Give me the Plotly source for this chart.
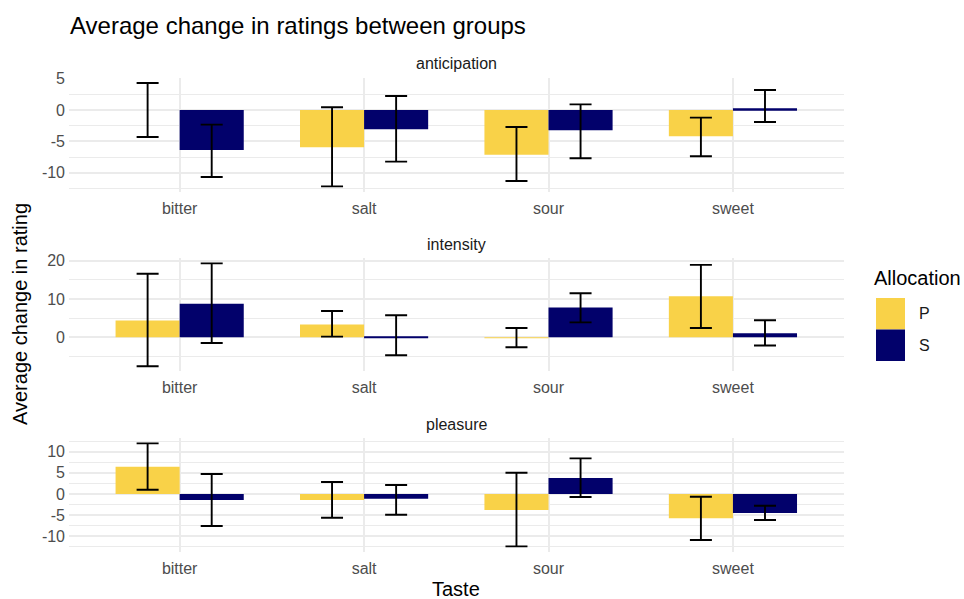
import plotly.graph_objects as go

# ---- data -----------------------------------------------------------------
tastes = ["bitter", "salt", "sour", "sweet"]
groups = ["P", "S"]
measures = ["anticipation", "intensity", "pleasure"]

# mean change in rating, with upper / lower error-bar bounds
anticipation_P_mean = [0.00, -5.96, -7.13, -4.20]
anticipation_P_hi = [4.31, 0.43, -2.71, -1.22]
anticipation_P_lo = [-4.31, -12.18, -11.33, -7.39]
anticipation_S_mean = [-6.38, -3.09, -3.24, 0.27]
anticipation_S_hi = [-2.34, 2.23, 0.90, 3.19]
anticipation_S_lo = [-10.69, -8.24, -7.71, -1.91]

intensity_P_mean = [4.35, 3.30, -0.10, 10.70]
intensity_P_hi = [16.60, 6.87, 2.43, 18.90]
intensity_P_lo = [-7.57, 0.17, -2.60, 2.43]
intensity_S_mean = [8.78, 0.26, 7.74, 1.04]
intensity_S_hi = [19.30, 5.74, 11.50, 4.43]
intensity_S_lo = [-1.48, -4.70, 3.90, -2.17]

pleasure_P_mean = [6.46, -1.42, -3.78, -5.75]
pleasure_P_hi = [11.97, 2.83, 5.04, -0.63]
pleasure_P_lo = [1.02, -5.59, -12.36, -10.87]
pleasure_S_mean = [-1.42, -1.10, 3.78, -4.49]
pleasure_S_hi = [4.72, 2.13, 8.43, -2.76]
pleasure_S_lo = [-7.56, -4.88, -0.71, -6.14]

# y-axis tick spacing (major, minor) per panel
major_step = [5, 10, 5]
minor_step = [2.5, 5, 2.5]

series = {
    ("anticipation", "P"): (anticipation_P_mean, anticipation_P_hi, anticipation_P_lo),
    ("anticipation", "S"): (anticipation_S_mean, anticipation_S_hi, anticipation_S_lo),
    ("intensity", "P"): (intensity_P_mean, intensity_P_hi, intensity_P_lo),
    ("intensity", "S"): (intensity_S_mean, intensity_S_hi, intensity_S_lo),
    ("pleasure", "P"): (pleasure_P_mean, pleasure_P_hi, pleasure_P_lo),
    ("pleasure", "S"): (pleasure_S_mean, pleasure_S_hi, pleasure_S_lo),
}

# ---- styling ----------------------------------------------------------------
W, H = 964, 599
FONT = "Liberation Sans, Arial, Helvetica, sans-serif"
colors = {"P": "#F9D248", "S": "#02016B"}
GRID = "#EBEBEB"


def px_x(p):
    return p / W


def px_y(p):
    return 1 - p / H


x_dom = [px_x(69), px_x(843.6)]
panel_px = [(77.8, 191.5), (258.2, 371.4), (438.2, 551.5)]

fig = go.Figure()
layout = dict(
    width=W, height=H,
    margin=dict(l=0, r=0, t=0, b=0, autoexpand=False),
    paper_bgcolor="white", plot_bgcolor="white",
    barmode="group", bargap=0.305, bargroupgap=0,
    showlegend=False,
    font=dict(family=FONT),
)

annotations = []
for i, m in enumerate(measures):
    n = "" if i == 0 else str(i + 1)
    means_all, his_all, los_all = [], [], []
    for g in groups:
        mean, hi, lo = series[(m, g)]
        means_all += mean
        his_all += hi
        los_all += lo
        fig.add_trace(go.Bar(
            x=tastes, y=mean, name=g, offsetgroup=g,
            marker=dict(color=colors[g], line=dict(width=0)),
            error_y=dict(
                type="data", symmetric=False,
                array=[h - v for h, v in zip(hi, mean)],
                arrayminus=[v - l for v, l in zip(mean, lo)],
                color="black", thickness=1.9, width=11,
            ),
            xaxis="x" + n, yaxis="y" + n,
        ))

    lo_v = min(los_all + means_all + [0])
    hi_v = max(his_all + means_all + [0])
    pad = 0.05 * (hi_v - lo_v)
    r0, r1 = lo_v - pad, hi_v + pad
    top_px, bot_px = panel_px[i]

    step = major_step[i]
    t = int(-(-r0 // step)) * step
    tickvals = []
    while t <= r1:
        tickvals.append(t)
        t += step
    ticktext = [str(int(v)) for v in tickvals]

    layout["xaxis" + n] = dict(
        domain=x_dom, anchor="y" + n, type="category",
        categoryorder="array", categoryarray=tastes,
        range=[-0.6, len(tastes) - 0.4],
        showgrid=True, gridcolor=GRID, gridwidth=1.6,
        zeroline=False, showline=False, ticks="",
        ticklabelstandoff=5, automargin=False,
        tickfont=dict(size=16, color="#4D4D4D", family=FONT),
        fixedrange=True,
    )
    layout["yaxis" + n] = dict(
        domain=[px_y(bot_px), px_y(top_px)], anchor="x" + n,
        range=[r0, r1],
        tickvals=tickvals, ticktext=ticktext,
        showgrid=True, gridcolor=GRID, gridwidth=1.6,
        minor=dict(dtick=minor_step[i], tick0=0, showgrid=True,
                   gridcolor=GRID, gridwidth=1.0, ticks=""),
        zeroline=False, showline=False, ticks="",
        ticklabelstandoff=3, automargin=False,
        tickfont=dict(size=16, color="#4D4D4D", family=FONT),
        fixedrange=True,
    )
    # facet strip label
    annotations.append(dict(
        text=m, xref="paper", yref="paper",
        x=(x_dom[0] + x_dom[1]) / 2, y=px_y(top_px - 14),
        xanchor="center", yanchor="middle", showarrow=False,
        font=dict(size=16, color="#1A1A1A", family=FONT),
    ))

# title and axis titles
annotations += [
    dict(text="Average change in ratings between groups", xref="paper", yref="paper",
         x=px_x(68), y=px_y(25), xanchor="left", yanchor="middle", showarrow=False,
         font=dict(size=24, color="black", family=FONT)),
    dict(text="Average change in rating", xref="paper", yref="paper",
         x=px_x(20), y=px_y(314), xanchor="center", yanchor="middle", showarrow=False,
         textangle=-90, font=dict(size=20, color="black", family=FONT)),
    dict(text="Taste", xref="paper", yref="paper",
         x=(x_dom[0] + x_dom[1]) / 2, y=px_y(589), xanchor="center", yanchor="middle",
         showarrow=False, font=dict(size=20, color="black", family=FONT)),
    dict(text="Allocation", xref="paper", yref="paper",
         x=px_x(872), y=px_y(278), xanchor="left", yanchor="middle", showarrow=False,
         font=dict(size=20, color="black", family=FONT)),
]

# legend keys
shapes = []
key_rows = [(298, 329.5), (329.5, 361)]
for g, (y0, y1) in zip(groups, key_rows):
    shapes.append(dict(
        type="rect", xref="paper", yref="paper",
        x0=px_x(876), x1=px_x(905), y0=px_y(y1), y1=px_y(y0),
        fillcolor=colors[g], line=dict(width=0), layer="above",
    ))
    annotations.append(dict(
        text=g, xref="paper", yref="paper",
        x=px_x(917), y=px_y((y0 + y1) / 2), xanchor="left", yanchor="middle",
        showarrow=False, font=dict(size=16, color="#1A1A1A", family=FONT),
    ))

layout["annotations"] = annotations
layout["shapes"] = shapes
fig.update_layout(**layout)

fig.write_html("out.html", config={"displayModeBar": False})
